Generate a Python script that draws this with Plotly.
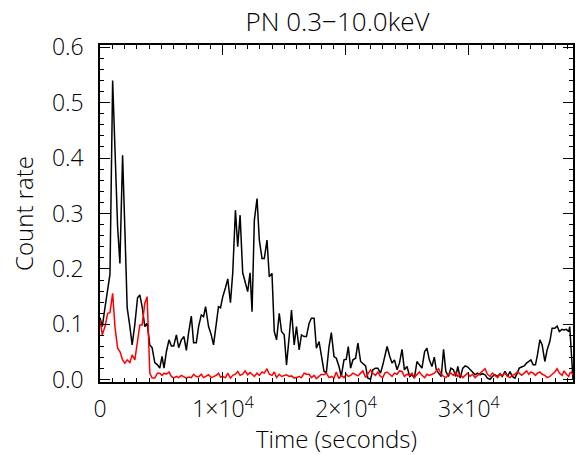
import plotly.graph_objects as go

time_s = [0, 186, 405, 623, 810, 1028, 1215, 1433, 1619, 1838, 2024, 2210, 2429, 2615, 2834, 3053, 3239, 3425, 3644, 3830,
          4049, 4235, 4453, 4672, 4858, 5045, 5206, 5401, 5611, 5806, 5992, 6210, 6397, 6615, 6826, 7020, 7206, 7425, 7611, 7830,
          8016, 8235, 8421, 8583, 8826, 9045, 9231, 9449, 9635, 9797, 9984, 10202, 10389, 10607, 10793, 11012, 11198, 11392, 11603, 11797,
          12008, 12202, 12364, 12550, 12769, 12955, 13174, 13360, 13579, 13765, 13984, 14170, 14356, 14575, 14761, 14979, 15166, 15384, 15571, 15789,
          15976, 16194, 16380, 16599, 16785, 17004, 17190, 17409, 17595, 17813, 18000, 18218, 18405, 18623, 18810, 19028, 19214, 19433, 19619, 19838,
          20024, 20186, 20380, 20566, 20785, 20971, 21190, 21376, 21595, 21781, 22000, 22186, 22404, 22591, 22809, 22996, 23158, 23344, 23562, 23749,
          23943, 24154, 24348, 24559, 24753, 24964, 25182, 25369, 25563, 25773, 25968, 26178, 26396, 26583, 26777, 26988, 27182, 27344, 27530, 27749,
          27935, 28121, 28340, 28526, 28744, 28931, 29093, 29287, 29498, 29692, 29903, 30097, 30283, 30502, 30688, 30907, 31093, 31312, 31498, 31717,
          31903, 32121, 32332, 32526, 32712, 32931, 33142, 33336, 33522, 33741, 33927, 34089, 34275, 34493, 34680, 34874, 35036, 35222, 35408, 35570,
          35765, 35951, 36170, 36356, 36575, 36761, 36980, 37166, 37352, 37571, 37733, 37919, 38113, 38194, 38324, 38460]

source_rate = [0.112, 0.096, 0.13, 0.168, 0.19, 0.54, 0.414, 0.276, 0.21, 0.405, 0.27, 0.13, 0.096, 0.063, 0.10, 0.148, 0.153, 0.132, 0.096, 0.102,
               0.063, 0.058, 0.031, 0.027, 0.021, 0.042, 0.021, 0.051, 0.072, 0.061, 0.061, 0.081, 0.058, 0.072, 0.078, 0.053, 0.085, 0.115, 0.067, 0.067,
               0.096, 0.117, 0.114, 0.132, 0.096, 0.081, 0.063, 0.099, 0.132, 0.13, 0.15, 0.166, 0.182, 0.139, 0.193, 0.306, 0.24, 0.297, 0.193, 0.177,
               0.159, 0.193, 0.123, 0.288, 0.327, 0.252, 0.219, 0.219, 0.252, 0.186, 0.192, 0.087, 0.072, 0.12, 0.087, 0.081, 0.027, 0.078, 0.126, 0.063,
               0.096, 0.054, 0.081, 0.078, 0.078, 0.102, 0.111, 0.111, 0.057, 0.069, 0.042, 0.015, 0.013, 0.06, 0.085, 0.042, 0.039, 0.024, 0.006, 0.036,
               0.037, 0.06, 0.021, 0.036, 0.039, 0.066, 0.033, 0.03, 0.025, 0.003, 0.001, 0.018, 0.021, 0.021, 0.012, 0.027, 0.045, 0.06, 0.042, 0.03,
               0.036, 0.018, 0.03, 0.055, 0.018, 0.024, 0.006, 0.009, 0.003, 0.033, 0.027, 0.021, 0.051, 0.057, 0.036, 0.024, 0.041, 0.018, 0.012, 0.006,
               0.055, 0.015, 0.006, 0.021, 0.018, 0.006, 0.024, 0.003, 0.021, 0.025, 0.023, 0.018, 0.015, 0.009, 0.012, 0.009, 0.011, 0.009, 0.003, 0.001,
               0.006, 0.009, 0.006, 0.011, 0.006, 0.015, 0.006, 0.015, 0.006, 0.003, 0.012, 0.021, 0.023, 0.025, 0.03, 0.033, 0.036, 0.027, 0.027, 0.045,
               0.072, 0.063, 0.033, 0.054, 0.069, 0.093, 0.093, 0.097, 0.087, 0.091, 0.09, 0.091, 0.087, 0.096, 0.036, 0.0]

background_rate = [0.108, 0.081, 0.096, 0.12, 0.121, 0.156, 0.096, 0.057, 0.051, 0.036, 0.03, 0.036, 0.031, 0.045, 0.036, 0.072, 0.099, 0.099, 0.138, 0.15,
                   0.012, 0.003, 0.003, 0.012,
                   0.012, 0.008, 0.012, 0.01, 0.014, 0.006, 0.003, 0.006, 0.004, 0.008, 0.006, 0.003, 0.005, 0.004, 0.01, 0.006, 0.005, 0.01, 0.004, 0.006,
                   0.009, 0.004, 0.006, 0.008, 0.012, 0.005, 0.006, 0.004, 0.012, 0.003, 0.008, 0.01, 0.015, 0.008, 0.01, 0.016, 0.009, 0.013,
                   0.01, 0.006, 0.012, 0.008, 0.014, 0.012, 0.02, 0.01, 0.008, 0.014, 0.004, 0.01, 0.006, 0.008, 0.009, 0.006, 0.007, 0.003, 0.005, 0.006,
                   0.004, 0.012, 0.01, 0.01, 0.004, 0.008, 0.002, 0.006, 0.01, 0.009, 0.012, 0.004, 0.006, 0.003, 0.014, 0.002, 0.008, 0.004, 0.01, 0.006,
                   0.008, 0.012, 0.01, 0.007, 0.012, 0.016, 0.004, 0.01, 0.018, 0.012, 0.008, 0.014, 0.006, 0.004, 0.012, 0.014, 0.01, 0.006, 0.012, 0.01,
                   0.016, 0.015, 0.006, 0.01,
                   0.008, 0.012, 0.004, 0.01, 0.014, 0.008, 0.004, 0.01, 0.008, 0.01, 0.012, 0.016, 0.02, 0.01, 0.006, 0.004, 0.01, 0.012, 0.008, 0.014,
                   0.006, 0.01, 0.004, 0.008, 0.012, 0.006, 0.01, 0.004, 0.008, 0.012, 0.016, 0.02, 0.01, 0.006, 0.012, 0.008, 0.004, 0.01, 0.008, 0.012,
                   0.006, 0.004, 0.008, 0.01, 0.014, 0.012, 0.008, 0.012, 0.016, 0.01, 0.014, 0.012, 0.008, 0.012, 0.014, 0.01, 0.008, 0.004, 0.006, 0.01,
                   0.014, 0.02, 0.012, 0.008, 0.016, 0.01, 0.006, 0.012, 0.014, 0.008]

x_tickvals = [0, 10000, 20000, 30000]
x_ticktext = ["0", "1×10<sup>4</sup>", "2×10<sup>4</sup>", "3×10<sup>4</sup>"]
y_tickvals = [0.0, 0.1, 0.2, 0.3, 0.4, 0.5, 0.6]
y_ticktext = ["0.0", "0.1", "0.2", "0.3", "0.4", "0.5", "0.6"]

n_bg = min(len(time_s), len(background_rate))

FONT = "Open Sans"
WEIGHT = 300

fig = go.Figure()
fig.add_trace(go.Scatter(x=time_s, y=source_rate, mode="lines",
                         line=dict(color="black", width=1.5), showlegend=False))
fig.add_trace(go.Scatter(x=time_s[:n_bg], y=background_rate[:n_bg], mode="lines",
                         line=dict(color="#ff0000", width=1.5), showlegend=False))

axis_common = dict(showgrid=False, zeroline=False, showline=True, linecolor="black", linewidth=1.5,
                   mirror="ticks", ticks="inside", tickcolor="black", tickwidth=1.2, ticklen=10,
                   tickfont=dict(family=FONT, size=23, color="black", weight=WEIGHT))

fig.update_layout(
    width=576, height=455,
    margin=dict(l=100, r=1, t=45, b=73),
    paper_bgcolor="white", plot_bgcolor="white",
    title=dict(text="PN 0.3−10.0keV", x=0.586, xanchor="center", y=0.952, yanchor="middle",
               font=dict(family=FONT, size=26, color="black", weight=WEIGHT)),
    xaxis=dict(range=[0, 38460], tickvals=x_tickvals, ticktext=x_ticktext,
               minor=dict(dtick=1000, ticks="inside", ticklen=4, tickcolor="black", tickwidth=1),
               ticklabelstandoff=6,
               title=dict(text="Time (seconds)", font=dict(family=FONT, size=24, color="black", weight=WEIGHT), standoff=13),
               **axis_common),
    yaxis=dict(range=[-0.004, 0.604], tickvals=y_tickvals, ticktext=y_ticktext,
               minor=dict(dtick=0.02, ticks="inside", ticklen=4, tickcolor="black", tickwidth=1),
               ticklabelstandoff=10,
               title=dict(text="Count rate", font=dict(family=FONT, size=24, color="black", weight=WEIGHT), standoff=12),
               **axis_common),
)

fig.write_html("out.html")
